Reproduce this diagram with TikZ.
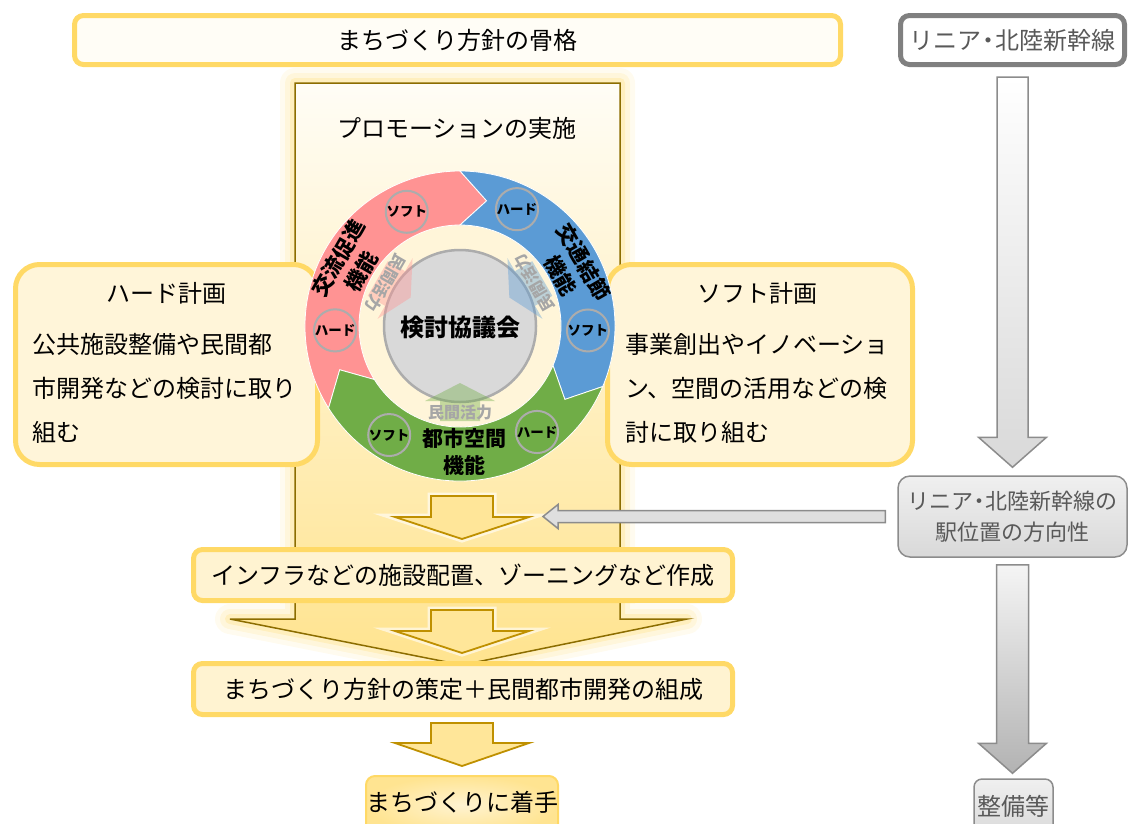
\documentclass[tikz,border=0pt]{standalone}
\usepackage{fontspec}
\setmainfont{Noto Sans CJK JP}
\usetikzlibrary{calc}

\definecolor{boxYellow}{HTML}{FFD966}
\definecolor{topFill}{HTML}{FFFDF6}
\definecolor{sideFill}{HTML}{FFF5D9}
\definecolor{stepFill}{HTML}{FFF3D1}
\definecolor{panelGold}{HTML}{8C6D00}
\definecolor{arrowGold}{HTML}{BF9000}
\definecolor{arrowFill}{HTML}{FFE699}
\definecolor{ringRed}{HTML}{FF9393}
\definecolor{ringBlue}{HTML}{5B9BD5}
\definecolor{ringGreen}{HTML}{70AD47}
\definecolor{lineGray}{HTML}{8C8C8C}
\definecolor{textGray}{HTML}{595959}

\newcommand{\nakaguro}{\kern-5pt・\kern-5pt}

\tikzstyle{bigFont} = [font=\fontsize{24pt}{28pt}\selectfont]
\tikzstyle{yellowBox} = [shape=rectangle, draw=boxYellow, line width=5pt, rounded corners=9pt,
	fill=stepFill, inner sep=0pt, bigFont]
\tikzstyle{sideBox} = [shape=rectangle, draw=boxYellow, line width=5pt, rounded corners=24pt,
	fill=sideFill, minimum height=200pt]
\tikzstyle{grayBox} = [shape=rectangle, draw=lineGray, line width=1.5pt, rounded corners=12pt,
	top color=gray!12, bottom color=gray!30, text=textGray, inner sep=0pt, align=center]
\tikzstyle{bodyText} = [anchor=north west, inner sep=0pt, align=left,
	font=\fontsize{24pt}{44pt}\selectfont]
\tikzstyle{ringLabel} = [inner sep=0pt, align=center, font=\bfseries\fontsize{21pt}{27pt}\selectfont]
\tikzstyle{smallCircle} = [shape=circle, draw=gray!65, line width=2pt, minimum size=39pt,
	inner sep=0pt, font=\bfseries\fontsize{13.5pt}{14pt}\selectfont]
\tikzstyle{katsuLabel} = [inner sep=0pt, text=gray!70, font=\bfseries\fontsize{16pt}{16pt}\selectfont]
\tikzstyle{goldArrow} = [draw=arrowGold, line width=1.8pt, fill=arrowFill,
	preaction={draw=white, line width=7pt, opacity=.6}]
\tikzstyle{grayArrow} = [draw=lineGray, line width=1.5pt, top color=white, bottom color=gray!30]

% block arrow pointing down: style, top, tip, shaft half width, head half width, head length
\newcommand{\vBlock}[6]{%
  \path[#1] let \p1=#2, \p2=#3 in
    (\x1-#4,\y1) -- (\x1+#4,\y1) -- (\x1+#4,\y2+#6) -- (\x1+#5,\y2+#6)
    -- (\x1,\y2) -- (\x1-#5,\y2+#6) -- (\x1-#4,\y2+#6) -- cycle;}
% block arrow pointing left: style, tail, tip, shaft half width, head half width, head length
\newcommand{\hBlock}[6]{%
  \path[#1] let \p1=#2, \p2=#3 in
    (\x1,\y1+#4) -- (\x2+#6,\y1+#4) -- (\x2+#6,\y1+#5) -- (\x2,\y1)
    -- (\x2+#6,\y1-#5) -- (\x2+#6,\y1-#4) -- (\x1,\y1-#4) -- cycle;}

\begin{document}
\begin{tikzpicture}[x=1pt, y=-1pt]
  \useasboundingbox (0,0) rectangle (1129,823);

  % panel with the big arrow at its foot
  \foreach \w/\o in {30/0.10, 20/0.15, 10/0.25}
    \draw[line width=\w pt, draw=boxYellow, opacity=\o, line join=round]
      (295,83) -- (620,83) -- (620,619) -- (687,619) -- (462,665) -- (230,619) -- (295,619) -- cycle;
  \draw[draw=panelGold, line width=1.5pt, top color=topFill, middle color=stepFill, bottom color=arrowFill!80!boxYellow]
    (295,83) -- (620,83) -- (620,619) -- (687,619) -- (462,665) -- (230,619) -- (295,619) -- cycle;

  \node (KOKKAKU) [yellowBox, fill=topFill, minimum width=766pt, minimum height=49pt] at (457.5,40) {まちづくり方針の骨格};
  \node (LINIA) [shape=rectangle, draw=black!50, line width=5pt, rounded corners=9pt, fill=white,
    text=textGray, bigFont, inner sep=0pt, minimum width=224pt, minimum height=49pt] at (1012.5,40) {リニア\nakaguro 北陸新幹線};
  \node (PROMO) [bigFont] at (457,128) {プロモーションの実施};

  \node (HARD) [sideBox, minimum width=302pt] at (166.5,364.5) {};
  \node (HARDTTL) [bigFont, inner sep=0pt] at ([yshift=-31pt]HARD.north) {ハード計画};
  \node (HARDTXT) [bodyText] at ([xshift=19pt, yshift=-71pt]HARD.north west) {公共施設整備や民間都\\市開発などの検討に取り\\組む};
  \node (SOFT) [sideBox, minimum width=305pt] at (760,364.5) {};
  \node (SOFTTTL) [bigFont, inner sep=0pt] at ([xshift=-3pt, yshift=-31pt]SOFT.north) {ソフト計画};
  \node (SOFTTXT) [bodyText] at ([xshift=20pt, yshift=-71pt]SOFT.north west) {事業創出やイノベーショ\\ン、空間の活用などの検\\討に取り組む};

  % ring of the three functions
  \begin{scope}[shift={(460,326)}, yscale=-1]
    \fill[sideFill] (0,0) circle[radius=101];
    \draw[white, line width=0.8pt, fill=ringRed] (212:155) arc[start angle=212, end angle=90, radius=155]
      -- (78:128) -- (90:101) arc[start angle=90, end angle=212, radius=101] -- (200:128) -- cycle;
    \draw[white, line width=0.8pt, fill=ringBlue] (90:155) arc[start angle=90, end angle=-23, radius=155]
      -- (-35:128) -- (-23:101) arc[start angle=-23, end angle=90, radius=101] -- (78:128) -- cycle;
    \draw[white, line width=0.8pt, fill=ringGreen] (-23:155) arc[start angle=-23, end angle=-148, radius=155]
      -- (-160:128) -- (-148:101) arc[start angle=-148, end angle=-23, radius=101] -- (-35:128) -- cycle;
    \draw[gray!65, line width=2.5pt, fill=gray!30] (0,0) circle[radius=76];
    \foreach \r/\c in {0/ringGreen, 120/ringRed, 240/ringBlue}
      \fill[\c, opacity=.4, rotate=\r] (0,-57) -- (35,-75) -- (20,-75) -- (20,-95)
        -- (-20,-95) -- (-20,-75) -- (-35,-75) -- cycle;

    \node (KENTOU) [font=\bfseries\fontsize{24pt}{24pt}\selectfont] at (0,-1) {検討協議会};
    \node (KATSU1) [katsuLabel] at (-90:86) {民間活力};
    \node (KATSU2) [katsuLabel, rotate=120] at (30:86) {民間活力};
    \node (KATSU3) [katsuLabel, rotate=-120] at (150:86) {民間活力};
    \node (KOURYU) [ringLabel, rotate=60] at (151:126) {交流促進\\機能};
    \node (KOUTSU) [ringLabel, rotate=-60] at (27:126) {交通結節\\機能};
    \node (TOSHI) [ringLabel] at (-88:126) {都市空間\\機能};
    \node (RSOFT) [smallCircle] at (115:126) {ソフト};
    \node (RHARD) [smallCircle] at (182:125) {ハード};
    \node (BHARD) [smallCircle] at (64:130) {ハード};
    \node (BSOFT) [smallCircle] at (-2:128) {ソフト};
    \node (GSOFT) [smallCircle] at (-123:130) {ソフト};
    \node (GHARD) [smallCircle] at (-54:131) {ハード};
  \end{scope}

  \node (INFRA) [yellowBox, minimum width=539pt, minimum height=51pt] at (463,575) {インフラなどの施設配置、ゾーニングなど作成};
  \node (SAKUTEI) [yellowBox, minimum width=539pt, minimum height=51pt] at (463,689) {まちづくり方針の策定＋民間都市開発の組成};
  \node (CHAKU) [yellowBox, line width=2pt, inner color=stepFill, outer color=arrowFill!85!boxYellow,
    minimum width=188pt, minimum height=58pt, text depth=8pt] at (462,805) {まちづくりに着手};

  \vBlock{goldArrow}{(462,496)}{([yshift=8pt]INFRA.north)}{31pt}{67pt}{22pt}
  \vBlock{goldArrow}{(462,610)}{([yshift=8pt]SAKUTEI.north)}{31pt}{67pt}{22pt}
  \vBlock{goldArrow}{(462,723)}{([yshift=9pt]CHAKU.north)}{31pt}{67pt}{23pt}

  % right column
  \node (EKI) [grayBox, font=\fontsize{22pt}{31pt}\selectfont, minimum width=229pt, minimum height=81pt] at (1012.5,516.5) {リニア\nakaguro 北陸新幹線の\\駅位置の方向性};
  \node (SEIBI) [grayBox, bigFont, rounded corners=8pt, minimum width=79pt, minimum height=58pt, text depth=6pt] at (1013.5,808) {整備等};
  \coordinate (ARRTIP) at (543,516);

  \vBlock{grayArrow}{([yshift=-10pt]LINIA.south)}{([yshift=8pt]EKI.north)}{15.5pt}{34pt}{30pt}
  \vBlock{grayArrow, top color=gray!8, bottom color=gray!60}{([yshift=-7pt]EKI.south)}{([yshift=5pt]SEIBI.north)}{16pt}{34pt}{30pt}
  \hBlock{draw=lineGray, line width=1.5pt, fill=gray!25}{([xshift=-12pt]EKI.west)}{(ARRTIP)}{6pt}{12pt}{15pt}

\end{tikzpicture}
\end{document}
